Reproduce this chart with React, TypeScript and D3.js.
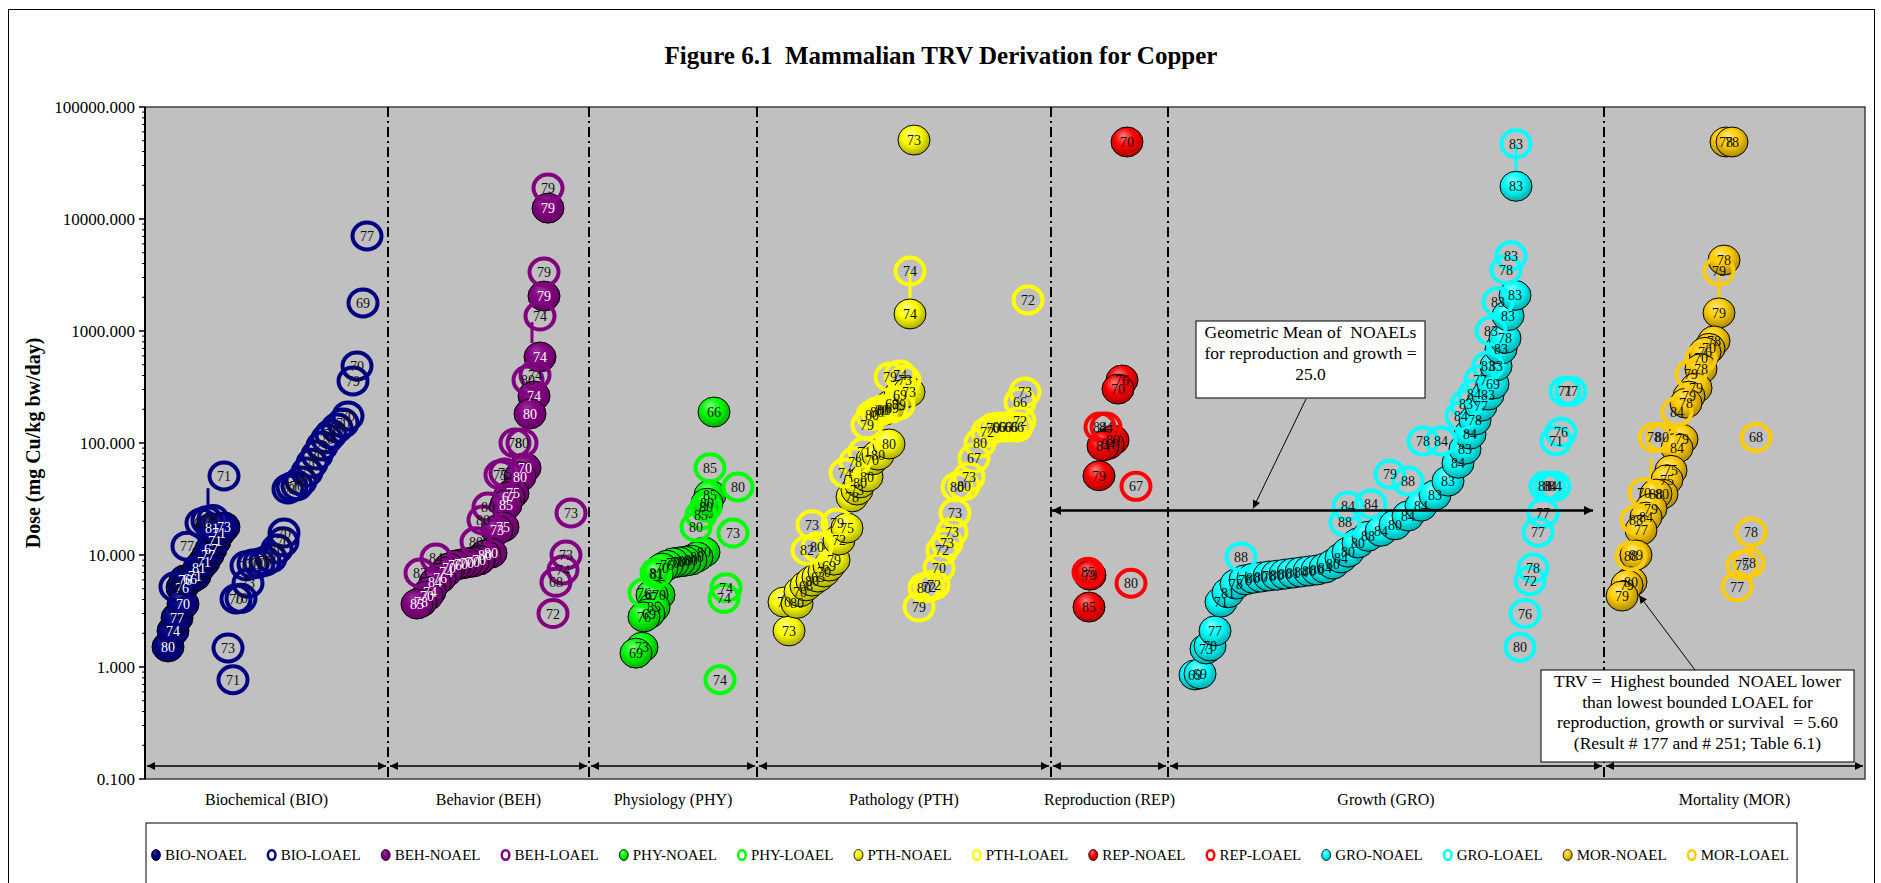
import * as d3 from "d3";

// categories along the x axis (result order), with break points in result-index units
const categories = [
  "Biochemical (BIO)",
  "Behavior (BEH)",
  "Physiology (PHY)",
  "Pathology (PTH)",
  "Reproduction (REP)",
  "Growth (GRO)",
  "Mortality (MOR)",
];
const categoryBreaks = [0, 60.75, 111, 153, 226.5, 255.75, 364.75, 430];
const yTicks = [0.1, 1, 10, 100, 1000, 10000, 100000];

// [result index, dose mg/kg bw/day, study year label]
type Pt = [number, number, string];

const bioNoael: Pt[] = [
  [5.75, 1.51, "80"], [7, 2.1, "74"], [8, 2.74, "77"], [9.25, 5.1, "76"], [9.5, 3.65, "70"],
  [10, 6.0, "76"], [11.25, 6.1, "66"], [12.5, 6.5, "71"], [13.5, 7.65, "81"], [14.75, 8.66, "71"],
  [15.75, 10, "77"], [16.5, 11.3, "67"], [17.5, 13.3, "71"], [18.5, 15.7, "71"], [16.75, 17.5, "81"],
  [19.75, 17.8, "73"],
];
const bioLoael: Pt[] = [
  [7.5, 5.2, "73"], [10.5, 12.0, "77"], [14, 19.3, "81"], [15.5, 20.2, "77"], [17, 20.8, "71"],
  [19.75, 50.7, "71"], [20.75, 1.48, "73"], [22, 0.77, "71"], [22.75, 4.05, "70"], [24, 4.1, "70"],
  [25.75, 5.6, "73"], [25.25, 8.0, "71"], [27, 8.3, "70"], [28.5, 8.5, "70"], [30, 8.8, "70"],
  [31.5, 9.4, "71"], [33, 11.3, "70"], [34.5, 13.1, "70"], [34.75, 15.7, "70"], [35.75, 38.8, "70"],
  [36.75, 40.5, "71"], [38, 41.5, "70"], [39, 45.8, "70"], [40.5, 55, "73"], [41.75, 66, "70"],
  [43, 78, "80"], [44.25, 94, "71"], [45.5, 109, "70"], [46.5, 120, "71"], [48, 136, "70"],
  [49.5, 151, "70"], [50.75, 174, "70"], [52, 358, "79"], [53, 487, "70"], [54.5, 1780, "69"],
  [55.5, 7050, "77"],
];
const behNoael: Pt[] = [
  [100.75, 12500, "79"], [99.75, 2050, "79"], [98.75, 586, "74"], [97.25, 263, "74"], [96.25, 182, "80"],
  [95, 60, "70"], [93.75, 50, "80"], [92, 35.7, "75"], [91, 33, "67"], [90.25, 28, "85"],
  [89.5, 17.8, "75"], [88, 16.7, "73"], [86.5, 10.4, "80"], [85, 10, "80"], [83.5, 9.0, "70"],
  [82, 8.66, "70"], [80.5, 8.5, "70"], [79, 8.3, "70"], [77.5, 8.1, "76"], [76, 7.65, "70"],
  [75.25, 7.05, "74"], [73.75, 6.2, "76"], [72.5, 5.7, "84"], [71.25, 4.7, "74"], [70.5, 4.3, "70"],
  [69, 3.8, "78"], [68, 3.65, "85"],
];
const behLoael: Pt[] = [
  [100.75, 18900, "79"], [99.75, 3360, "79"], [98.75, 1360, "74"], [97.5, 405, "74"], [95.75, 365, "80"],
  [92.5, 100, "78"], [94.25, 100, "80"], [88.75, 52, "75"], [90, 54, "75"], [85.75, 26.8, "80"],
  [84.5, 20.5, "80"], [82.75, 13.1, "80"], [72.75, 9.4, "84"], [68.75, 6.9, "83"], [106.5, 23.7, "73"],
  [105.25, 10, "73"], [104.5, 7.35, "74"], [102.75, 5.7, "68"], [102, 3.0, "72"],
];
const phyNoael: Pt[] = [
  [142.25, 189, "66"], [141.25, 34.3, "85"], [140.5, 29, "80"], [139.75, 10.6, "80"], [138, 9.6, "80"],
  [136.5, 9.0, "80"], [135, 8.8, "80"], [133.5, 8.66, "70"], [132, 8.5, "70"], [130.5, 8.1, "76"],
  [129.25, 7.65, "70"], [128, 6.75, "81"], [128.5, 4.4, "70"], [126.75, 4.4, "67"], [127.25, 3.4, "85"],
  [126, 3.0, "69"], [124.75, 2.8, "76"], [124.25, 1.5, "73"], [122.75, 1.33, "69"],
];
const phyLoael: Pt[] = [
  [141.25, 60, "85"], [148.25, 40.5, "80"], [140.25, 26.8, "80"], [139, 22.8, "85"], [137.75, 17.8, "80"],
  [147, 15.7, "73"], [127.75, 6.9, "81"], [124.75, 4.6, "76"], [145.25, 5.1, "74"], [144.75, 4.1, "74"],
  [143.75, 0.77, "74"],
];
const pthNoael: Pt[] = [
  [192.25, 50700, "73"], [191.25, 1420, "74"], [161, 2.1, "73"], [159.75, 3.8, "70"], [163, 3.7, "80"],
  [163.75, 4.7, "70"], [165.25, 5.3, "68"], [166.75, 5.85, "80"], [168.25, 6.35, "63"], [169.75, 7.05, "70"],
  [171, 7.95, "69"], [172.25, 9.0, "79"], [173.5, 13.6, "72"], [175.5, 17.4, "75"], [176.75, 33, "78"],
  [178, 38, "73"], [178.75, 44, "80"], [180.5, 50, "80"], [181.75, 70.5, "70"], [183.25, 78, "80"],
  [186, 98, "80"], [184.75, 196, "80"], [186.75, 222, "69"], [188.75, 268, "69"], [191, 285, "73"],
];
const pthLoael: Pt[] = [
  [166.75, 18.6, "73"], [165.5, 11, "82"], [168, 11.8, "80"], [173, 19.3, "79"], [175, 54, "74"],
  [177.5, 68, "78"], [179.75, 83, "71"], [180.5, 145, "79"], [181.75, 177, "80"], [183, 189, "80"],
  [184.25, 196, "80"], [186.75, 205, "69"], [188.5, 218, "79"], [186.25, 388, "79"], [188.75, 405, "74"],
  [190, 365, "73"], [191.25, 3430, "74"], [220.75, 1890, "72"],
  [193.5, 3.43, "79"], [194.75, 5.1, "80"], [196, 5.2, "72"], [197.25, 5.4, "72"], [198.5, 7.65, "70"],
  [199.25, 11, "72"], [200.5, 12.8, "73"], [201.75, 16, "73"], [202.5, 23.7, "73"], [203, 40.5, "80"],
  [204.75, 41.5, "80"], [206, 49.7, "73"], [207.25, 73, "67"], [208.75, 100, "80"], [210.5, 125, "72"],
  [212, 136, "70"], [213.5, 139, "66"], [215, 139, "66"], [216.5, 139, "66"], [218, 139, "66"],
  [218.75, 157, "72"], [218.75, 232, "66"], [220, 285, "73"],
];
const repNoael: Pt[] = [
  [245.5, 48700, "70"], [244.25, 365, "76"], [243.25, 303, "70"], [242, 106, "80"], [240.75, 97, "84"],
  [239.5, 94, "84"], [238.5, 51, "79"], [236.25, 6.6, "79"], [236, 3.43, "85"],
];
const repLoael: Pt[] = [
  [238.75, 139, "84"], [240.25, 139, "84"], [247.75, 41, "67"], [235.75, 7.0, "85"], [246.5, 5.6, "80"],
];
const groNoael: Pt[] = [
  [262.5, 0.85, "69"], [263.75, 0.87, "69"], [265.25, 1.45, "73"], [266.25, 1.54, "70"], [267.5, 2.1, "77"],
  [269, 3.8, "71"], [270.75, 4.6, "81"], [272.75, 5.5, "78"], [275, 6.0, "78"], [277, 6.2, "80"],
  [279, 6.35, "80"], [281, 6.5, "78"], [283, 6.6, "80"], [285, 6.75, "80"], [287, 6.9, "81"],
  [289, 7.05, "84"], [291, 7.2, "80"], [293, 7.35, "80"], [295, 7.65, "84"], [297, 8.3, "80"],
  [299, 9.4, "84"], [300.75, 10.6, "80"], [303.25, 12.8, "80"], [305.75, 14.7, "88"], [309, 16.3, "84"],
  [312.5, 18.6, "80"], [315.75, 22.3, "84"], [319, 27.3, "84"], [322.5, 34.3, "83"], [325.75, 45.7, "83"],
  [328.25, 66, "84"], [330, 88, "83"], [331.25, 120, "84"], [332.5, 160, "78"], [334, 213, "77"],
  [335.75, 268, "83"], [337, 336, "69"], [337.75, 487, "83"], [339, 690, "83"], [340, 860, "78"],
  [340.75, 1370, "83"], [342.5, 2080, "83"], [342.75, 19600, "83"],
];
const groLoael: Pt[] = [
  [274, 9.6, "88"], [300, 19.7, "88"], [300.75, 27.3, "84"], [306.5, 28.5, "84"], [311.25, 52.7, "79"],
  [315.75, 45.7, "88"], [319.5, 104, "78"], [324, 104, "84"], [329, 174, "84"], [330.25, 222, "83"],
  [332.25, 272, "84"], [333.75, 365, "77"], [335.75, 487, "83"], [336.5, 1000, "83"], [338.25, 1820, "83"],
  [340.25, 3530, "78"], [341.5, 4700, "83"], [342.75, 47000, "83"], [355, 290, "71"], [356.5, 290, "77"],
  [354, 125, "76"], [352.75, 105, "71"], [350, 41, "88"], [351.25, 41, "84"], [352.5, 41, "84"],
  [349.5, 23.7, "77"], [348.25, 16, "77"], [347, 7.65, "78"], [346.25, 5.9, "72"], [345, 3.0, "76"],
  [343.75, 1.5, "80"],
];
const morNoael: Pt[] = [
  [395.25, 48700, "78"], [396.75, 48700, "78"], [394.75, 4300, "78"], [393.5, 1450, "79"], [392.25, 815, "78"],
  [391, 700, "70"], [390, 645, "76"], [389, 460, "78"], [387.75, 310, "79"], [386, 262, "79"],
  [385.25, 227, "78"], [384.25, 108, "79"], [383, 90, "84"], [381.5, 57, "75"], [380.5, 47, "75"],
  [379.25, 35, "80"], [377.75, 35, "88"], [376.5, 26, "79"], [375.25, 21.8, "84"], [374, 16.7, "77"],
  [372.75, 10, "89"], [371.5, 5.75, "80"], [370.5, 5.4, "79"], [369.25, 4.3, "79"],
];
const morLoael: Pt[] = [
  [393.5, 3430, "79"], [389, 575, "70"], [386.5, 410, "79"], [383, 190, "84"], [377.25, 112, "78"],
  [379.25, 112, "80"], [374.75, 36, "70"], [372.75, 20.5, "88"], [371.5, 9.8, "88"], [402.75, 112, "68"],
  [401.5, 16, "78"], [399.25, 8.1, "75"], [401, 8.45, "78"], [398, 5.2, "77"],
];

// [result index, low dose, high dose, group] - lines joining bounded NOAEL/LOAEL pairs
const connectors: [number, number, number, string][] = [
  [15.75, 20.8, 39.5, "BIO"],
  [96.75, 780, 1200, "BEH"],
  [191.25, 1420, 3430, "PTH"],
  [342.75, 19600, 47000, "GRO"],
  [393.5, 1450, 3430, "MOR"],
  [376.5, 42, 73, "MOR"],
];

const geoMean = 25.0;
const trvValue = 5.6;

const groupColors: Record<string, string> = {
  BIO: "#000080",
  BEH: "#800080",
  PHY: "#00ff00",
  PTH: "#ffff00",
  REP: "#ff0000",
  GRO: "#00ffff",
  MOR: "#ffcc00",
};

const series = [
  { name: "BIO-NOAEL", data: bioNoael, group: "BIO", filled: true },
  { name: "BIO-LOAEL", data: bioLoael, group: "BIO", filled: false },
  { name: "BEH-NOAEL", data: behNoael, group: "BEH", filled: true },
  { name: "BEH-LOAEL", data: behLoael, group: "BEH", filled: false },
  { name: "PHY-NOAEL", data: phyNoael, group: "PHY", filled: true },
  { name: "PHY-LOAEL", data: phyLoael, group: "PHY", filled: false },
  { name: "PTH-NOAEL", data: pthNoael, group: "PTH", filled: true },
  { name: "PTH-LOAEL", data: pthLoael, group: "PTH", filled: false },
  { name: "REP-NOAEL", data: repNoael, group: "REP", filled: true },
  { name: "REP-LOAEL", data: repLoael, group: "REP", filled: false },
  { name: "GRO-NOAEL", data: groNoael, group: "GRO", filled: true },
  { name: "GRO-LOAEL", data: groLoael, group: "GRO", filled: false },
  { name: "MOR-NOAEL", data: morNoael, group: "MOR", filled: true },
  { name: "MOR-LOAEL", data: morLoael, group: "MOR", filled: false },
];

const FONT = "'Liberation Serif', 'Times New Roman', serif";
const pre = { whiteSpace: "pre" as const };

export default function App() {
  const W = 1881;
  const H = 883;
  const left = 145, right = 1865, top = 107, bottom = 779;

  const x = d3.scaleLinear().domain([0, 430]).range([left, right]);
  const y = d3.scaleLog().domain([0.1, 100000]).range([bottom, top]);
  const fmt = d3.format(".3f");

  const minorTicks: number[] = [];
  yTicks.slice(0, -1).forEach((d) => {
    for (let m = 2; m <= 9; m++) minorTicks.push(d * m);
  });

  const gradId = (g: string) => `grad-${g}`;
  const isDark = (g: string) => g === "BIO" || g === "BEH";

  // legend layout
  const ctx = document.createElement("canvas").getContext("2d")!;
  ctx.font = `15px ${FONT}`;
  const widths = series.map((s) => ctx.measureText(s.name).width);
  const markerW = 14;
  const legL = 151, legR = 1789;
  const gap = (legR - legL - d3.sum(widths) - markerW * series.length) / (series.length - 1);
  let cursor = legL;
  const legendPos = series.map((s, i) => {
    const p = cursor;
    cursor += markerW + widths[i] + gap;
    return p;
  });

  const arrowLineY = 766;
  const geoY = y(geoMean);

  const geoLines = ["Geometric Mean of  NOAELs", "for reproduction and growth =", geoMean.toFixed(1)];
  const trvLines = [
    "TRV =  Highest bounded  NOAEL lower",
    "than lowest bounded LOAEL for",
    `reproduction, growth or survival  = ${trvValue.toFixed(2)}`,
    "(Result # 177 and # 251; Table 6.1)",
  ];

  return (
    <svg
      width={W}
      height={H}
      style={{ position: "absolute", left: 0, top: 0, background: "#fff" }}
      fontFamily={FONT}
    >
      <defs>
        {Object.entries(groupColors).map(([g, c]) => {
          const base = d3.color(c)!;
          return (
            <radialGradient key={g} id={gradId(g)} cx="45%" cy="40%" r="60%" fx="38%" fy="28%">
              <stop offset="0%" stopColor={d3.interpolateRgb(c, "#ffffff")(isDark(g) ? 0.2 : 0.5)} />
              <stop offset="50%" stopColor={c} />
              <stop offset="100%" stopColor={base.darker(isDark(g) ? 0.6 : 1.1).formatHex()} />
            </radialGradient>
          );
        })}
        <marker id="ah" viewBox="0 0 10 10" refX="10" refY="5" markerWidth="10" markerHeight="8"
          markerUnits="userSpaceOnUse" orient="auto-start-reverse">
          <path d="M0,0 L10,5 L0,10 z" fill="#000" />
        </marker>
        <marker id="ah2" viewBox="0 0 10 10" refX="10" refY="5" markerWidth="12" markerHeight="9"
          markerUnits="userSpaceOnUse" orient="auto-start-reverse">
          <path d="M0,0 L10,5 L0,10 z" fill="#000" />
        </marker>
        <clipPath id="plotClip">
          <rect x={left} y={top} width={right - left} height={bottom - top} />
        </clipPath>
      </defs>

      {/* outer frame */}
      <rect x={8.5} y={9.5} width={1866} height={H} fill="#fff" stroke="#000" strokeWidth={1} />

      <text x={941} y={64} textAnchor="middle" fontSize={25} fontWeight="bold" style={pre}>
        Figure 6.1  Mammalian TRV Derivation for Copper
      </text>

      {/* plot area */}
      <rect x={left} y={top} width={right - left} height={bottom - top} fill="#c0c0c0" stroke="#404040" strokeWidth={1.5} />

      {/* y axis */}
      <line x1={left} x2={left} y1={top} y2={bottom} stroke="#000" strokeWidth={2} />
      {yTicks.map((t) => (
        <g key={t}>
          <line x1={left - 6} x2={left} y1={y(t)} y2={y(t)} stroke="#000" strokeWidth={1.5} />
          <text x={left - 10} y={y(t) + 6} textAnchor="end" fontSize={17}>
            {fmt(t)}
          </text>
        </g>
      ))}
      {minorTicks.map((t) => (
        <line key={t} x1={left - 3} x2={left} y1={y(t)} y2={y(t)} stroke="#000" strokeWidth={1} />
      ))}
      <text transform={`translate(40,${(top + bottom) / 2}) rotate(-90)`} textAnchor="middle" fontSize={20} fontWeight="bold">
        Dose (mg Cu/kg bw/day)
      </text>

      {/* category separators */}
      {categoryBreaks.slice(1, -1).map((b) => (
        <line key={b} x1={x(b)} x2={x(b)} y1={top} y2={bottom} stroke="#000" strokeWidth={2} strokeDasharray="10,4,2,4" />
      ))}

      {/* category range arrows + labels */}
      {categories.map((c, i) => {
        const a = x(categoryBreaks[i]);
        const b = x(categoryBreaks[i + 1]);
        return (
          <g key={c}>
            <line x1={a + 2} x2={b - 2} y1={arrowLineY} y2={arrowLineY} stroke="#000" strokeWidth={1.5}
              markerStart="url(#ah)" markerEnd="url(#ah)" />
            <text x={(a + b) / 2} y={805} textAnchor="middle" fontSize={16}>
              {c}
            </text>
          </g>
        );
      })}

      <g clipPath="url(#plotClip)">
        {/* connectors */}
        {connectors.map(([cx, lo, hi, g], i) => (
          <line key={i} x1={x(cx)} x2={x(cx)} y1={y(lo)} y2={y(hi)} stroke={groupColors[g]} strokeWidth={3} />
        ))}

        {/* markers */}
        {series.map((s) => (
          <g key={s.name}>
            {s.data.map(([xi, v], j) =>
              s.filled ? (
                <ellipse key={j} cx={x(xi)} cy={y(v)} rx={16} ry={15} fill={`url(#${gradId(s.group)})`} stroke="#000" strokeWidth={1} />
              ) : (
                <ellipse key={j} cx={x(xi)} cy={y(v)} rx={14.5} ry={13.5} fill="none" stroke={groupColors[s.group]} strokeWidth={4} />
              )
            )}
          </g>
        ))}

        {/* data labels */}
        {series.map((s) => (
          <g key={s.name + "-lab"} fontSize={14} textAnchor="middle">
            {s.data.map(([xi, v, lab], j) => (
              <text key={j} x={x(xi)} y={y(v) + 5} fill={s.filled && isDark(s.group) ? "#fff" : "#111"}>
                {lab}
              </text>
            ))}
          </g>
        ))}

        {/* geometric mean line */}
        <line x1={x(categoryBreaks[4]) + 1} x2={x(362)} y1={geoY} y2={geoY} stroke="#000" strokeWidth={2.5}
          markerStart="url(#ah2)" markerEnd="url(#ah2)" />
      </g>

      {/* geometric mean annotation */}
      <line x1={1306} y1={399} x2={x(277)} y2={geoY - 2} stroke="#000" strokeWidth={1} markerEnd="url(#ah)" />
      <rect x={1196} y={321} width={229} height={77} fill="#fff" stroke="#000" strokeWidth={1} />
      {geoLines.map((t, i) => (
        <text key={i} x={1310.5} y={338 + i * 21} fontSize={17.5} textAnchor="middle" style={pre}>
          {t}
        </text>
      ))}

      {/* TRV annotation */}
      <line x1={1695} y1={670} x2={x(373) + 2} y2={y(trvValue) + 12} stroke="#000" strokeWidth={1} markerEnd="url(#ah)" />
      <rect x={1541} y={670} width={313} height={92} fill="#fff" stroke="#000" strokeWidth={1} />
      {trvLines.map((t, i) => (
        <text key={i} x={1697.5} y={687 + i * 20.7} fontSize={17.5} textAnchor="middle" style={pre}>
          {t}
        </text>
      ))}

      {/* legend */}
      <rect x={146} y={823} width={1651} height={80} fill="#fff" stroke="#000" strokeWidth={1} />
      {series.map((s, i) => {
        const lx = legendPos[i];
        const c = groupColors[s.group];
        return (
          <g key={s.name + "-leg"}>
            {s.filled ? (
              <ellipse cx={lx + 5} cy={855} rx={4.5} ry={5.5} fill={`url(#${gradId(s.group)})`} stroke="#000" strokeWidth={0.8} />
            ) : (
              <ellipse cx={lx + 5} cy={855} rx={3.8} ry={4.8} fill="none" stroke={c} strokeWidth={2.5} />
            )}
            <text x={lx + markerW} y={860} fontSize={15}>
              {s.name}
            </text>
          </g>
        );
      })}
    </svg>
  );
}
